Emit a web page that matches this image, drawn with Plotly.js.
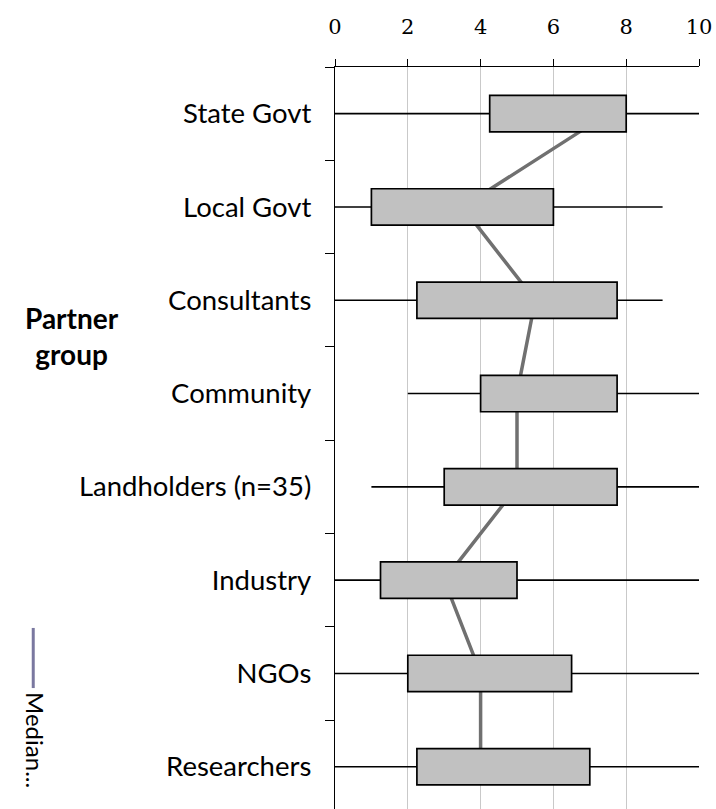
<!DOCTYPE html>
<html>
<head>
<meta charset="utf-8">
<script src="https://cdn.plot.ly/plotly-3.0.1.min.js"></script>
<style>
html,body{margin:0;padding:0;background:#fff;}
#chart{width:716px;height:809px;}
</style>
</head>
<body>
<div id="chart"></div>
<script>
// Data
const categories = ["State Govt", "Local Govt", "Consultants", "Community", "Landholders (n=35)", "Industry", "NGOs", "Researchers"];
const minVals    = [0, 0, 0, 2, 1, 0, 0, 0];
const maxVals    = [10, 9, 9, 10, 10, 10, 10, 10];
const q1Vals     = [4.25, 1, 2.25, 4, 3, 1.25, 2, 2.25];
const q3Vals     = [8, 6, 7.75, 7.75, 7.75, 5, 6.5, 7];
const medianVals = [7.5, 3.5, 5.5, 5, 5, 3, 4, 4];
const xTickVals  = [0, 2, 4, 6, 8, 10];

// whisker segments (min..max) per category, separated by gaps
const wx = [], wy = [];
categories.forEach((c, i) => {
  wx.push(minVals[i], maxVals[i], null);
  wy.push(c, c, null);
});

const whiskers = {
  type: 'scatter', mode: 'lines', x: wx, y: wy,
  xaxis: 'x', yaxis: 'y',
  line: {color: '#000000', width: 1.6},
  hoverinfo: 'skip', showlegend: false, connectgaps: false
};

const medianLine = {
  type: 'scatter', mode: 'lines', x: medianVals, y: categories,
  xaxis: 'x', yaxis: 'y', name: 'Median',
  line: {color: '#707070', width: 3.5},
  showlegend: false
};

const boxes = {
  type: 'bar', orientation: 'h',
  y: categories,
  x: q3Vals.map((v, i) => v - q1Vals[i]),
  base: q1Vals,
  xaxis: 'x2', yaxis: 'y',
  width: 0.39,
  marker: {color: '#c1c1c1', line: {color: '#000000', width: 1.7}},
  showlegend: false
};

const layout = {
  width: 716, height: 809,
  margin: {l: 335, r: 17, t: 67, b: 0, pad: 0},
  paper_bgcolor: '#ffffff', plot_bgcolor: '#ffffff',
  font: {family: 'Lato, "Open Sans", sans-serif', color: '#000000'},
  showlegend: false,
  xaxis: {
    side: 'top', range: [0, 10], autorange: false,
    tickvals: xTickVals, ticktext: xTickVals.map(String),
    ticks: 'outside', ticklen: 7, tickcolor: '#000', tickwidth: 1,
    tickfont: {family: '"DejaVu Serif", "Liberation Serif", serif', size: 21, color: '#000'},
    ticklabelstandoff: 16,
    showline: true, linecolor: '#000', linewidth: 1.2,
    showgrid: true, gridcolor: '#c9c9c9', gridwidth: 1,
    zeroline: false, fixedrange: true
  },
  xaxis2: {
    overlaying: 'x', range: [0, 10], autorange: false,
    visible: false, showgrid: false, zeroline: false
  },
  yaxis: {
    type: 'category', categoryorder: 'array', categoryarray: categories,
    range: [7.453, -0.5], autorange: false,
    tickson: 'boundaries', ticks: 'outside', ticklen: 9, tickcolor: '#000', tickwidth: 1,
    tickfont: {family: 'Lato, sans-serif', size: 27.5, color: '#000'},
    ticklabelstandoff: 17,
    showline: true, linecolor: '#000', linewidth: 1.2,
    showgrid: false, zeroline: false
  },
  annotations: [
    {
      xref: 'paper', yref: 'paper', x: -0.7225, y: 0.638,
      xanchor: 'center', yanchor: 'middle', showarrow: false,
      text: '<b>Partner<br>group</b>',
      font: {family: 'Lato, sans-serif', size: 28, color: '#000'}
    },
    {
      xref: 'paper', yref: 'paper', x: -0.823, y: 0.025,
      xanchor: 'center', yanchor: 'bottom', showarrow: false,
      textangle: 90,
      text: 'Median...',
      font: {family: 'Lato, sans-serif', size: 24, color: '#000'}
    }
  ],
  shapes: [
    {
      type: 'line', xref: 'paper', yref: 'paper',
      x0: -0.829, x1: -0.829, y0: 0.163, y1: 0.244,
      line: {color: '#7a78a0', width: 3}
    }
  ]
};

Plotly.newPlot('chart', [whiskers, medianLine, boxes], layout, {displayModeBar: false, staticPlot: true});
</script>
</body>
</html>
